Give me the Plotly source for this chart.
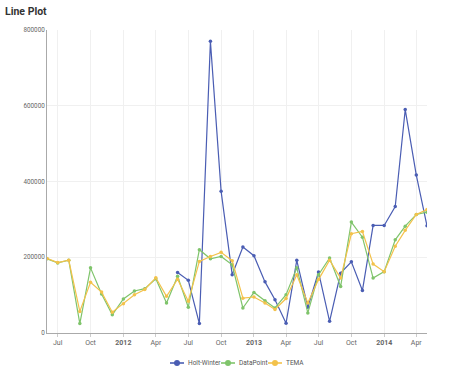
import plotly.graph_objects as go

months = ["2011-06-01","2011-07-01","2011-08-01","2011-09-01","2011-10-01","2011-11-01","2011-12-01",
          "2012-01-01","2012-02-01","2012-03-01","2012-04-01","2012-05-01","2012-06-01","2012-07-01",
          "2012-08-01","2012-09-01","2012-10-01","2012-11-01","2012-12-01",
          "2013-01-01","2013-02-01","2013-03-01","2013-04-01","2013-05-01","2013-06-01","2013-07-01",
          "2013-08-01","2013-09-01","2013-10-01","2013-11-01","2013-12-01",
          "2014-01-01","2014-02-01","2014-03-01","2014-04-01","2014-05-01"]

holt_winter = [None]*12 + [160000, 139000, 25000, 770000, 374000, 154000, 227000,
               204000, 135000, 88000, 26000, 192000, 68000, 161000,
               31000, 158000, 188000, 112000, 284000,
               284000, 334000, 590000, 417000, 283000]

datapoint = [196000, 185000, 192000, 25000, 172000, 103000, 48000,
             90000, 111000, 117000, 143000, 79000, 150000, 68000,
             220000, 196000, 202000, 180000, 66000,
             107000, 85000, 66000, 101000, 172000, 53000, 154000,
             198000, 123000, 293000, 253000, 145000,
             162000, 246000, 282000, 313000, 319000]

tema = [197000, 186000, 192000, 57000, 134000, 108000, 55000,
        77000, 101000, 115000, 146000, 97000, 142000, 84000,
        189000, 202000, 213000, 191000, 92000,
        95000, 79000, 62000, 91000, 154000, 79000, 141000,
        192000, 145000, 262000, 268000, 182000,
        162000, 229000, 271000, 313000, 326000]

tick_vals = ["2011-07-01","2011-10-01","2012-01-01","2012-04-01","2012-07-01","2012-10-01",
             "2013-01-01","2013-04-01","2013-07-01","2013-10-01","2014-01-01","2014-04-01"]
tick_text = ["Jul","Oct","<b>2012</b>","Apr","Jul","Oct","<b>2013</b>","Apr","Jul","Oct","<b>2014</b>","Apr"]

y_ticks = [0, 200000, 400000, 600000, 800000]

series_names = ["Holt-Winter", "DataPoint", "TEMA"]
series_values = [holt_winter, datapoint, tema]
series_colors = ["#4a5db3", "#7fc46b", "#f3c24b"]

W, H = 474, 370
ML, MR, MT, MB = 47, 47, 30, 37
PW, PH = W - ML - MR, H - MT - MB


def px_x(x):
    return (x - ML) / PW


def px_y(y):
    return (H - MB - y) / PH


fig = go.Figure()
for name, vals, col in zip(series_names, series_values, series_colors):
    fig.add_trace(go.Scatter(x=months, y=vals, name=name, mode="lines+markers",
                             line=dict(color=col, width=1.2),
                             marker=dict(color=col, size=3.5),
                             connectgaps=False, showlegend=False))

# compact legend (symbol + label) drawn below the plot
legend_starts = [170, 221, 268]
leg_y = 363
shapes = []
annotations = []
for name, col, x0 in zip(series_names, series_colors, legend_starts):
    shapes.append(dict(type="line", xref="paper", yref="paper",
                       x0=px_x(x0), x1=px_x(x0 + 14), y0=px_y(leg_y), y1=px_y(leg_y),
                       line=dict(color=col, width=1.6)))
    shapes.append(dict(type="circle", xref="paper", yref="paper",
                       x0=px_x(x0 + 4), x1=px_x(x0 + 10), y0=px_y(leg_y - 3), y1=px_y(leg_y + 3),
                       fillcolor=col, line=dict(color=col, width=0)))
    annotations.append(dict(text=name, xref="paper", yref="paper",
                            x=px_x(x0 + 16), y=px_y(leg_y), xanchor="left", yanchor="middle",
                            showarrow=False, font=dict(size=6.5, color="#555")))

annotations.append(dict(text="<b>Line Plot</b>", xref="paper", yref="paper",
                        x=px_x(3), y=px_y(12), xanchor="left", yanchor="middle",
                        showarrow=False, font=dict(size=10.5, color="#333")))

fig.update_layout(
    width=W, height=H,
    margin=dict(l=ML, r=MR, t=MT, b=MB, autoexpand=False),
    paper_bgcolor="white", plot_bgcolor="white",
    font=dict(family="Roboto, sans-serif", size=7, color="#666"),
    showlegend=False,
    shapes=shapes,
    annotations=annotations,
    xaxis=dict(type="date", range=["2011-06-01", "2014-05-01"],
               tickvals=tick_vals, ticktext=tick_text,
               showgrid=True, gridcolor="#f0f0f0", gridwidth=1,
               showline=True, linecolor="#aaa", linewidth=1,
               ticks="outside", ticklen=3, tickcolor="#ccc",
               tickfont=dict(size=7, color="#666"), zeroline=False),
    yaxis=dict(range=[0, 800000], tickvals=y_ticks, tickformat="d",
               showgrid=True, gridcolor="#f0f0f0", gridwidth=1,
               showline=True, linecolor="#aaa", linewidth=1,
               tickfont=dict(size=6.3, color="#666"), zeroline=False),
)

fig.write_html("out.html", config={"displayModeBar": False},
               post_script="document.body.style.margin='0';")
